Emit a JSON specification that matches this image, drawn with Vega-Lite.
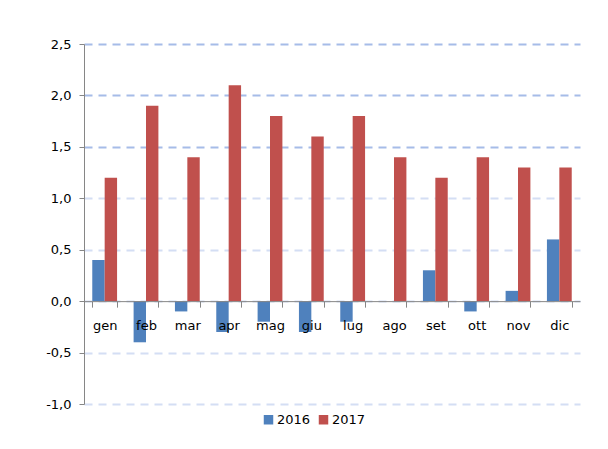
{
  "$schema": "https://vega.github.io/schema/vega-lite/v6.json",
  "width": 496,
  "height": 360,
  "autosize": {"type": "none"},
  "padding": {"left": 84, "top": 44, "right": 28, "bottom": 45},
  "background": "white",
  "data": {
    "values": [
      {"mese": "gen", "anno": "2016", "v": 0.4}, {"mese": "gen", "anno": "2017", "v": 1.2},
      {"mese": "feb", "anno": "2016", "v": -0.4}, {"mese": "feb", "anno": "2017", "v": 1.9},
      {"mese": "mar", "anno": "2016", "v": -0.1}, {"mese": "mar", "anno": "2017", "v": 1.4},
      {"mese": "apr", "anno": "2016", "v": -0.3}, {"mese": "apr", "anno": "2017", "v": 2.1},
      {"mese": "mag", "anno": "2016", "v": -0.2}, {"mese": "mag", "anno": "2017", "v": 1.8},
      {"mese": "giu", "anno": "2016", "v": -0.3}, {"mese": "giu", "anno": "2017", "v": 1.6},
      {"mese": "lug", "anno": "2016", "v": -0.2}, {"mese": "lug", "anno": "2017", "v": 1.8},
      {"mese": "ago", "anno": "2016", "v": 0.0}, {"mese": "ago", "anno": "2017", "v": 1.4},
      {"mese": "set", "anno": "2016", "v": 0.3}, {"mese": "set", "anno": "2017", "v": 1.2},
      {"mese": "ott", "anno": "2016", "v": -0.1}, {"mese": "ott", "anno": "2017", "v": 1.4},
      {"mese": "nov", "anno": "2016", "v": 0.1}, {"mese": "nov", "anno": "2017", "v": 1.3},
      {"mese": "dic", "anno": "2016", "v": 0.6}, {"mese": "dic", "anno": "2017", "v": 1.3}
    ]
  },
  "mark": {"type": "bar"},
  "encoding": {
    "x": {
      "field": "mese", "type": "nominal", "sort": null,
      "scale": {"paddingInner": 0.4, "paddingOuter": 0.2},
      "axis": {
        "title": null, "labelAngle": 0, "offset": -102.86,
        "tickBand": "extent", "ticks": true, "domainColor": "#868686", "tickColor": "#868686",
        "tickSize": 6, "tickWidth": 1, "labelPadding": 12, "labelFontSize": 13, "labelColor": "#000000",
        "labelFont": "DejaVu Sans", "grid": false, "zindex": 1
      }
    },
    "xOffset": {"field": "anno", "type": "nominal", "scale": {"padding": 0}},
    "y": {
      "field": "v", "type": "quantitative",
      "scale": {"domain": [-1, 2.5], "nice": false, "zero": false},
      "axis": {
        "title": null, "values": [-1, -0.5, 0, 0.5, 1, 1.5, 2, 2.5],
        "labelExpr": "replace(replace(format(datum.value, '.1f'), '.', ','), '\u2212', '-')",
        "labelFontSize": 13, "labelFont": "DejaVu Sans", "labelColor": "#000000",
        "labelPadding": 8, "domainColor": "#868686", "tickColor": "#868686", "tickSize": 5,
        "grid": true, "gridDash": [8, 6], "gridWidth": 2,
        "gridColor": {"condition": {"test": "datum.value >= 1.5", "value": "#a6bce8"}, "value": "#d4def4"}
      }
    },
    "color": {
      "field": "anno", "type": "nominal",
      "scale": {"domain": ["2016", "2017"], "range": ["#4f81bd", "#c0504d"]},
      "legend": {
        "title": null, "orient": "none", "direction": "horizontal",
        "legendX": 178, "legendY": 369, "symbolType": "square", "symbolSize": 90,
        "labelFontSize": 13, "labelFont": "DejaVu Sans", "labelColor": "#000000",
        "symbolStrokeWidth": 0, "columnPadding": 6, "labelOffset": 2
      }
    }
  },
  "config": {"view": {"stroke": null}}
}
